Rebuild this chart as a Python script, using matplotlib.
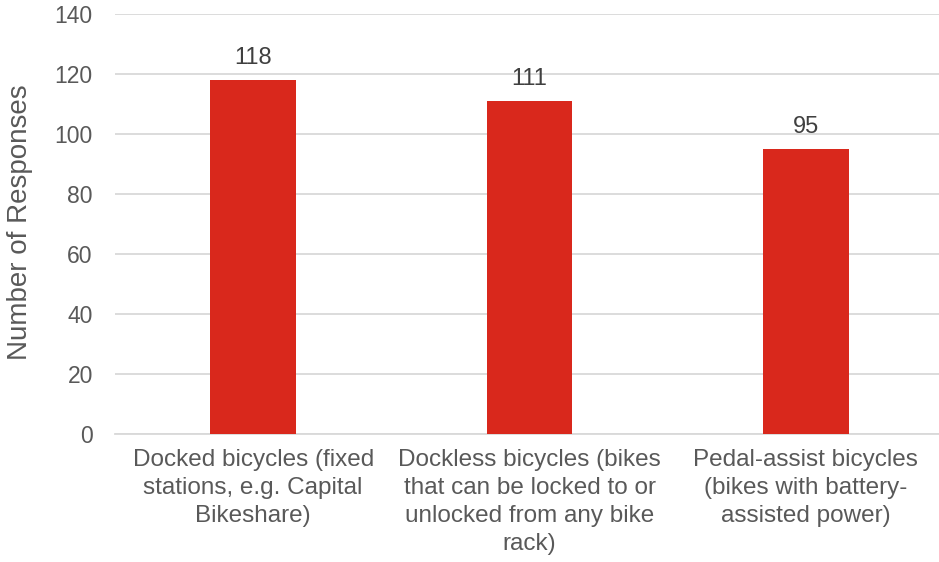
import matplotlib
matplotlib.use("Agg")
import matplotlib.pyplot as plt

# --- Data ---
categories = [
    "Docked bicycles (fixed\nstations, e.g. Capital\nBikeshare)",
    "Dockless bicycles (bikes\nthat can be locked to or\nunlocked from any bike\nrack)",
    "Pedal-assist bicycles\n(bikes with battery-\nassisted power)",
]
responses = [118, 111, 95]
y_ticks = [0, 20, 40, 60, 80, 100, 120, 140]

BAR_COLOR = "#D9281C"
TEXT_COLOR = "#595959"
GRID_COLOR = "#D9D9D9"

plt.rcParams["font.family"] = ["Liberation Sans", "DejaVu Sans"]

fig = plt.figure(figsize=(9.39, 5.62), dpi=100)
ax = fig.add_axes([115 / 939, 1 - 434 / 562, 829 / 939, 420 / 562])

x = range(len(categories))
bars = ax.bar(x, responses, width=0.311, color=BAR_COLOR, zorder=3)

# value labels above bars
for b, v in zip(bars, responses):
    ax.annotate(str(v), xy=(b.get_x() + b.get_width() / 2, v),
                xytext=(0, 8), textcoords="offset points",
                ha="center", va="bottom", fontsize=17, color="#404040")

ax.set_xlim(-0.5, len(categories) - 0.5)
ax.set_ylim(0, 140)
ax.set_yticks(y_ticks)
ax.set_xticks(list(x))
ax.set_xticklabels(categories, fontsize=17.5, color=TEXT_COLOR, linespacing=1.35)
ax.tick_params(axis="y", labelsize=16.5, labelcolor=TEXT_COLOR, length=0, pad=16)
ax.tick_params(axis="x", length=0, pad=11)

ax.grid(axis="y", color=GRID_COLOR, linewidth=1.3, zorder=0)
for side in ["top", "right", "left"]:
    ax.spines[side].set_visible(False)
ax.spines["bottom"].set_color(GRID_COLOR)
ax.spines["bottom"].set_linewidth(1.3)

fig.text(20 / 939, 1 - 222 / 562, "Number of Responses", rotation=90,
         ha="center", va="center", fontsize=20, color=TEXT_COLOR)

fig.savefig("out.png", dpi=100)
